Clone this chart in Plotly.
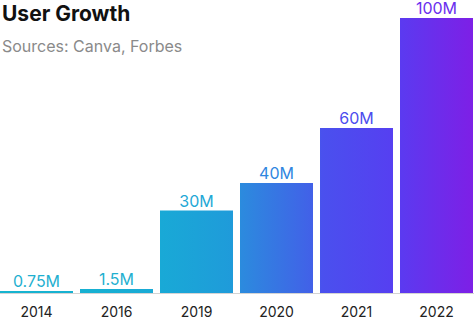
import plotly.graph_objects as go

years = ["2014", "2016", "2019", "2020", "2021", "2022"]
users_m = [0.75, 1.5, 30, 40, 60, 100]
labels = ["0.75M", "1.5M", "30M", "40M", "60M", "100M"]

label_colors = ["#1fb0d0", "#1fb0d0", "#1fa8d6", "#2f86df", "#4c4cee", "#6a2eee"]
gradient = [
    [0.0, "#16b4cf"], [0.2, "#17b0d2"], [0.34, "#19a9d6"], [0.49, "#1f9bda"],
    [0.51, "#2c8ade"], [0.66, "#4260e8"], [0.68, "#4a50ee"], [0.83, "#563ff1"],
    [0.845, "#5b3af0"], [1.0, "#7e1fe6"],
]

W, H = 474, 331
ML, MR, MT, MB = 0, 0, 18, 38
pitch = 80.0
bar_w = 73 / pitch
x0 = -36.5 / pitch
x1 = x0 + (W - ML - MR) / pitch

xs, ys = [], []
for i, v in enumerate(users_m):
    a, b = i - bar_w / 2, i + bar_w / 2
    xs += [a, b, b, a, a, None]
    ys += [0, 0, v, v, 0, None]

fig = go.Figure()
fig.add_trace(go.Scatter(
    x=xs, y=ys, mode="lines", fill="toself",
    line=dict(width=0, color="rgba(0,0,0,0)"),
    fillgradient=dict(type="horizontal", colorscale=gradient, start=x0, stop=x1),
    hoverinfo="skip", showlegend=False,
))
fig.add_trace(go.Scatter(
    x=list(range(len(years))), y=users_m, mode="text", text=labels,
    textposition="top center",
    textfont=dict(family="Inter", size=16, color=label_colors),
    cliponaxis=False, showlegend=False,
))

fig.update_layout(
    width=W, height=H,
    margin=dict(l=ML, r=MR, t=MT, b=MB),
    paper_bgcolor="white", plot_bgcolor="white",
    font=dict(family="Inter", color="#222222"),
    xaxis=dict(
        range=[x0, x1], tickvals=list(range(len(years))), ticktext=years,
        showgrid=False, zeroline=False, showline=True, linecolor="#d4d4d4",
        linewidth=1, ticks="", tickfont=dict(size=14, color="#222222"),
        ticklabelstandoff=6, fixedrange=True,
    ),
    yaxis=dict(range=[0, 100], visible=False, fixedrange=True),
    annotations=[
        dict(text="<b>User Growth</b>", x=0, y=(H - MB - 14) / (H - MT - MB),
             xref="paper", yref="paper", xanchor="left", yanchor="middle",
             showarrow=False, font=dict(family="Inter", size=21, color="#111111")),
        dict(text="Sources: Canva, Forbes", x=0, y=(H - MB - 46) / (H - MT - MB),
             xref="paper", yref="paper", xanchor="left", yanchor="middle",
             showarrow=False, font=dict(family="Inter", size=16, color="#8a8a8a")),
    ],
)

fig.write_html("out.html")
